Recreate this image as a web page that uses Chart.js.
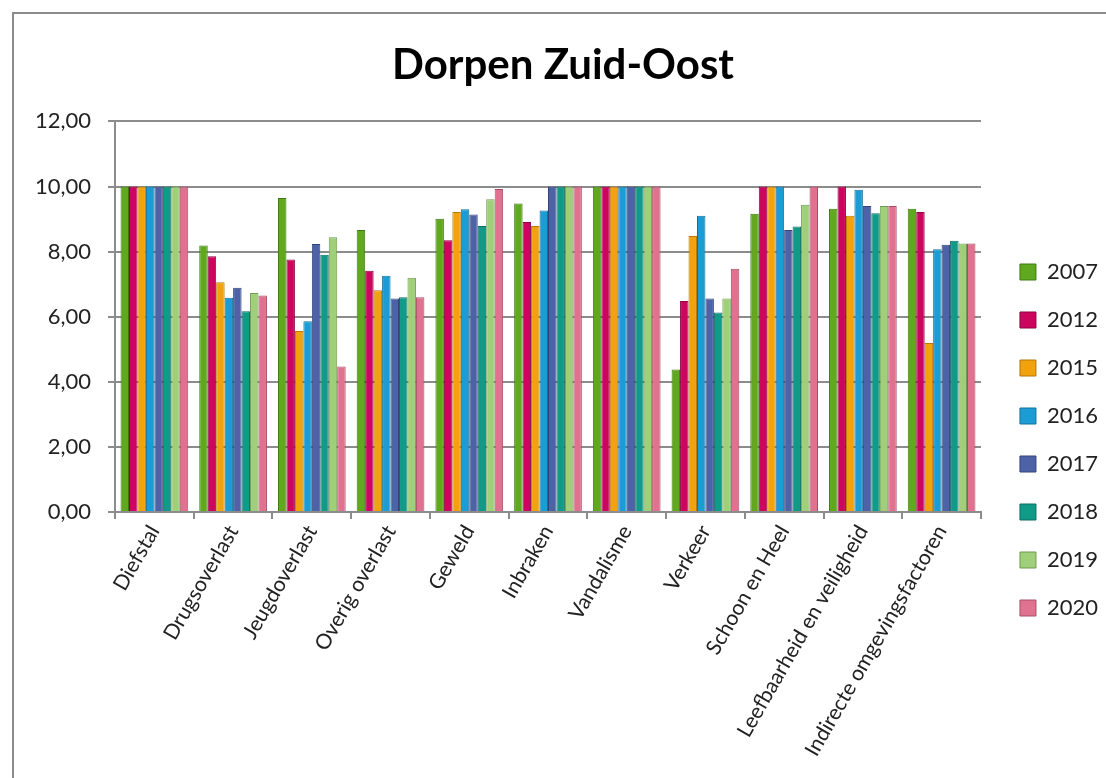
<!DOCTYPE html>
<html>
<head>
<meta charset="utf-8">
<script src="https://cdn.jsdelivr.net/npm/chart.js@4.4.0/dist/chart.umd.min.js"></script>
<style>
  html, body { margin: 0; padding: 0; background: #fff; }
  body { width: 1106px; height: 778px; position: relative; overflow: hidden; }
  #frame { position: absolute; left: 12px; top: 12px; width: 1200px; height: 900px;
           border-top: 2px solid #8c8c8c; border-left: 2px solid #8c8c8c; }
  #wrap { position: absolute; left: 18px; top: 0; width: 1090px; height: 880px; }
</style>
</head>
<body>
<div id="frame"></div>
<div id="wrap"><canvas id="chart" width="1090" height="880"></canvas></div>
<script>
// --- Data ---
const categories = ['Diefstal', 'Drugsoverlast', 'Jeugdoverlast', 'Overig overlast', 'Geweld', 'Inbraken',
    'Vandalisme', 'Verkeer', 'Schoon en Heel', 'Leefbaarheid en veiligheid', 'Indirecte omgevingsfactoren'];
const years = ['2007', '2012', '2015', '2016', '2017', '2018', '2019', '2020'];
const s2007 = [10, 8.19, 9.65, 8.66, 9.01, 9.48, 10, 4.38, 9.16, 9.32, 9.32];
const s2012 = [10, 7.86, 7.76, 7.41, 8.35, 8.91, 10, 6.48, 10, 10, 9.22];
const s2015 = [10, 7.06, 5.56, 6.81, 9.22, 8.79, 10, 8.48, 10, 9.10, 5.19];
const s2016 = [10, 6.58, 5.86, 7.26, 9.30, 9.26, 10, 9.10, 10, 9.90, 8.07];
const s2017 = [10, 6.89, 8.23, 6.56, 9.14, 10, 10, 6.56, 8.66, 9.40, 8.21];
const s2018 = [10, 6.17, 7.90, 6.60, 8.79, 10, 10, 6.13, 8.77, 9.18, 8.33];
const s2019 = [10, 6.73, 8.44, 7.20, 9.61, 10, 10, 6.56, 9.44, 9.40, 8.25];
const s2020 = [10, 6.65, 4.47, 6.60, 9.92, 10, 10, 7.47, 10, 9.40, 8.25];
const yTicks = [0, 2, 4, 6, 8, 10, 12];

const seriesValues = [s2007, s2012, s2015, s2016, s2017, s2018, s2019, s2020];
const fills = ['#60a91e', '#cc065e', '#f2a20c', '#1c9cd4', '#4e62a8', '#129a88', '#9fcf78', '#e0728f'];
const edges = ['#3f7a12', '#8e0340', '#b87806', '#11709c', '#334478', '#0b6c5f', '#6f9a50', '#a64e67'];

const fontFamily = 'Lato, "Open Sans", sans-serif';

const datasets = years.map((y, i) => ({
    label: y,
    data: seriesValues[i],
    backgroundColor: fills[i],
    borderColor: edges[i],
    borderWidth: 1,
    categoryPercentage: 0.86,
    barPercentage: 1.0
}));

new Chart(document.getElementById('chart'), {
    type: 'bar',
    data: { labels: categories, datasets: datasets },
    options: {
        responsive: false,
        animation: false,
        layout: { padding: { left: 0, right: 0, top: 0, bottom: 0 } },
        plugins: {
            title: {
                display: true,
                text: 'Dorpen Zuid-Oost',
                color: '#000',
                font: { family: fontFamily, size: 42, weight: 'bold' },
                padding: { top: 40, bottom: 31 }
            },
            legend: {
                position: 'right',
                labels: {
                    color: '#222',
                    font: { family: fontFamily, size: 22 },
                    boxWidth: 16,
                    boxHeight: 16,
                    padding: 26
                }
            },
            tooltip: { enabled: false }
        },
        scales: {
            x: {
                grid: { display: true, drawOnChartArea: false, color: '#8c8c8c', lineWidth: 2, tickLength: 7, offset: true },
                border: { display: true, color: '#8c8c8c', width: 2 },
                ticks: {
                    color: '#222',
                    font: { family: fontFamily, size: 21 },
                    minRotation: 60,
                    maxRotation: 60,
                    autoSkip: false,
                    padding: 2
                },
                // room below the labels so the plot ends where the reference does
                afterFit: scale => { scale.height = 368; }
            },
            y: {
                min: 0,
                max: 12,
                afterBuildTicks: axis => { axis.ticks = yTicks.map(v => ({ value: v })); },
                grid: { color: '#8c8c8c', lineWidth: 2, tickLength: 7 },
                border: { display: true, color: '#8c8c8c', width: 2 },
                ticks: {
                    color: '#222',
                    font: { family: fontFamily, size: 22 },
                    padding: 17,
                    callback: v => v.toFixed(2).replace('.', ',')
                }
            },
            // empty axis: only keeps the gap between plot and legend
            gap: {
                position: 'right',
                min: 0,
                max: 12,
                grid: { display: false },
                border: { display: false },
                ticks: { display: false },
                afterFit: scale => { scale.width = 13; }
            }
        }
    }
});
</script>
</body>
</html>
